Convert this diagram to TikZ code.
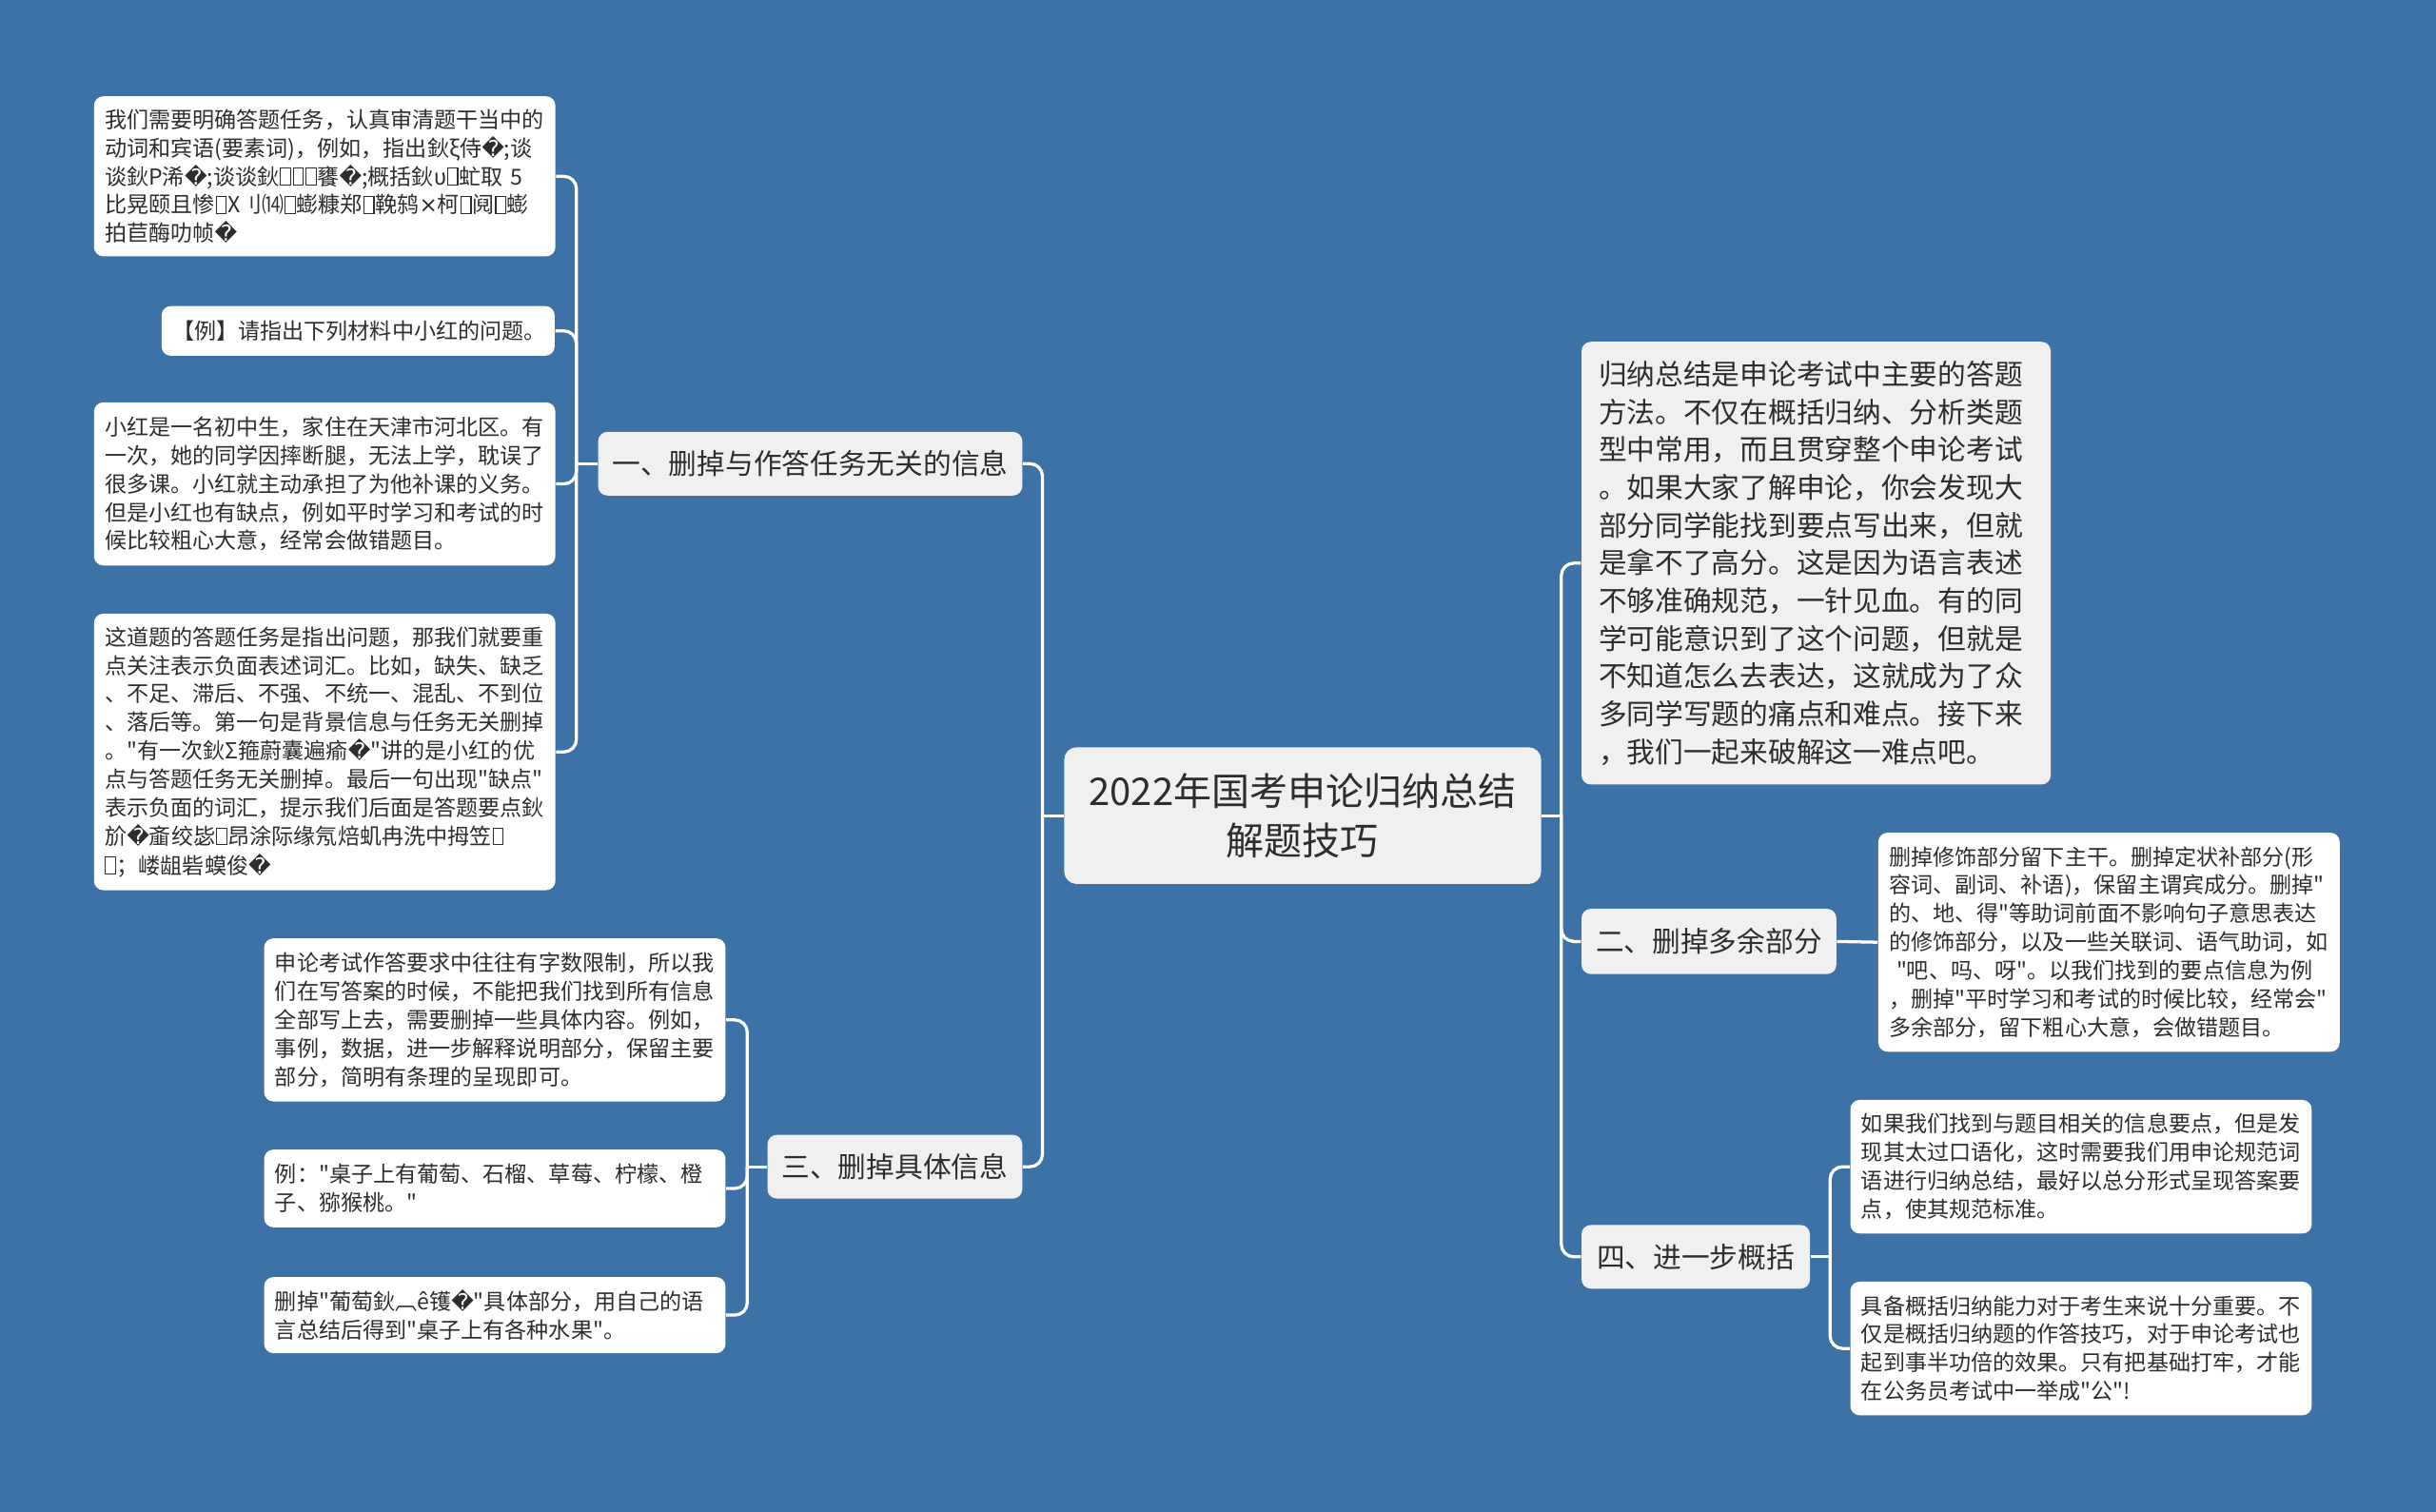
\documentclass[tikz,border=0pt]{standalone}
\usepackage{fontspec}
\setmainfont{Noto Sans CJK SC}[Ligatures=TeXOff]
\newfontfamily\symfont{DejaVu Sans}
\newcommand{\repch}{{\symfont\char"FFFD}}
\newcommand{\tofu}{\kern.04em{\setlength\fboxsep{0pt}\setlength\fboxrule{0.35pt}\framebox[0.5em]{\rule{0pt}{0.72em}}}\kern.04em}
\newcommand{\timesch}{{\symfont\char"00D7}}
\definecolor{mapbg}{RGB}{61,114,166}
\definecolor{topicgray}{RGB}{240,240,240}
\definecolor{inkgray}{RGB}{45,45,45}
\tikzset{
  root/.style={fill=topicgray, rounded corners=4pt, text=inkgray, align=center,
    font=\fontsize{12.25}{16}\selectfont, minimum width=153.5pt, minimum height=44pt},
  topic/.style={fill=topicgray, rounded corners=3pt, text=inkgray,
    font=\fontsize{9.1}{12.15}\selectfont, inner xsep=0pt, minimum height=20.5pt},
  note/.style={fill=topicgray, rounded corners=3pt, text=inkgray, align=left,
    font=\fontsize{9.1}{12.15}\selectfont, inner xsep=5.5pt, inner ysep=0pt, text width=140pt},
  leaf/.style={fill=white, rounded corners=3pt, text=inkgray, align=left,
    font=\fontsize{7.07}{9.15}\selectfont, inner xsep=3.5pt, inner ysep=0pt, text width=141.5pt},
  link/.style={draw=white, line width=1pt, rounded corners=4pt},
}
\begin{document}
\begin{tikzpicture}[x=0.5pt,y=-0.5pt]
  \fill[mapbg] (0,0) rectangle (1568,973);
  \useasboundingbox (0,0) rectangle (1568,973);

  \node[root] (root) at (838.5,525) {2022年国考申论归纳总结\\解题技巧};

  \node[topic, minimum width=136.5pt] (b1) at (521.5,298.5) {一、删掉与作答任务无关的信息};
  \node[topic, minimum width=82pt] (b3) at (576,751) {三、删掉具体信息};
  \node[topic, minimum width=82pt, minimum height=21pt] (b2) at (1100,606) {二、删掉多余部分};
  \node[topic, minimum width=73.5pt] (b4) at (1091.5,809) {四、进一步概括};

  \node[note, minimum height=142.5pt] (r0) at (1169,362.5) {归纳总结是申论考试中主要的答题\\
方法。不仅在概括归纳、分析类题\\
型中常用，而且贯穿整个申论考试\\
。如果大家了解申论，你会发现大\\
部分同学能找到要点写出来，但就\\
是拿不了高分。这是因为语言表述\\
不够准确规范，一针见血。有的同\\
学可能意识到了这个问题，但就是\\
不知道怎么去表达，这就成为了众\\
多同学写题的痛点和难点。接下来\\
，我们一起来破解这一难点吧。};

  \node[leaf, minimum height=70.5pt] (r2) at (1357.5,606.5) {删掉修饰部分留下主干。删掉定状补部分(形\\
容词、副词、补语)，保留主谓宾成分。删掉"\\
的、地、得"等助词前面不影响句子意思表达\\
的修饰部分，以及一些关联词、语气助词，如\\
~"吧、吗、呀"。以我们找到的要点信息为例\\
，删掉"平时学习和考试的时候比较，经常会"\\
多余部分，留下粗心大意，会做错题目。};

  \node[leaf, minimum height=43pt] (r4a) at (1339.5,751) {如果我们找到与题目相关的信息要点，但是发\\
现其太过口语化，这时需要我们用申论规范词\\
语进行归纳总结，最好以总分形式呈现答案要\\
点，使其规范标准。};
  \node[leaf, minimum height=43pt] (r4b) at (1339.5,868) {具备概括归纳能力对于考生来说十分重要。不\\
仅是概括归纳题的作答技巧，对于申论考试也\\
起到事半功倍的效果。只有把基础打牢，才能\\
在公务员考试中一举成"公"!};

  \node[leaf, minimum height=51.5pt] (l1a) at (209,113.5) {我们需要明确答题任务，认真审清题干当中的\\
动词和宾语(要素词)，例如，指出鈥ξ侍\repch{};谈\\
谈鈥P浠\repch{};谈谈鈥\tofu\tofu\tofu{}饔\repch{};概括鈥υ\tofu{}虻取~5\\
比晃颐且惨\tofu{}X刂⒁\tofu{}蟛糠郑\tofu{}鞔鸫\timesch{}柯\tofu{}阋\tofu{}蟛\\
拍苣酶叻帧\repch{}};
  \node[leaf, text width=119.5pt, minimum height=16pt] (l1b) at (230.5,213) {【例】请指出下列材料中小红的问题。};
  \node[leaf, minimum height=52.5pt] (l1c) at (209,311.5) {小红是一名初中生，家住在天津市河北区。有\\
一次，她的同学因摔断腿，无法上学，耽误了\\
很多课。小红就主动承担了为他补课的义务。\\
但是小红也有缺点，例如平时学习和考试的时\\
候比较粗心大意，经常会做错题目。};
  \node[leaf, minimum height=89pt] (l1d) at (209,484) {这道题的答题任务是指出问题，那我们就要重\\
点关注表示负面表述词汇。比如，缺失、缺乏\\
、不足、滞后、不强、不统一、混乱、不到位\\
、落后等。第一句是背景信息与任务无关删掉\\
。"有一次鈥Σ箍蔚囊遍瘉\repch{}"讲的是小红的优\\
点与答题任务无关删掉。最后一句出现"缺点"\\
表示负面的词汇，提示我们后面是答题要点鈥\\
斺\repch{}齑绞毖\tofu{}昂涂际缘氖焙虮冉洗中拇笠\tofu\\
\tofu{}；嵝龃砦蟆俊\repch{}};

  \node[leaf, minimum height=52.5pt] (l3a) at (318.5,656.5) {申论考试作答要求中往往有字数限制，所以我\\
们在写答案的时候，不能把我们找到所有信息\\
全部写上去，需要删掉一些具体内容。例如，\\
事例，数据，进一步解释说明部分，保留主要\\
部分，简明有条理的呈现即可。};
  \node[leaf, minimum height=25pt] (l3b) at (318.5,765) {例："桌子上有葡萄、石榴、草莓、柠檬、橙\\
子、猕猴桃。"};
  \node[leaf, minimum height=24.5pt] (l3c) at (318.5,846.5) {删掉"葡萄鈥︹ê镬\repch{}"具体部分，用自己的语\\
言总结后得到"桌子上有各种水果"。};

  \coordinate (jl) at (671,525);
  \coordinate (jr) at (1005,525);
  \coordinate (j1) at (371,298.5);
  \coordinate (j3) at (481,751);
  \coordinate (j4) at (1178,809);

  \draw[link] (root.west) -- (jl);
  \draw[link] (root.east) -- (jr);
  \foreach \t in {b1,b3} \draw[link] (jl) |- (\t.east);
  \foreach \t in {r0,b2,b4} \draw[link] (jr) |- (\t.west);

  \draw[link] (b1.west) -- (j1);
  \foreach \t in {l1a,l1b,l1c,l1d} \draw[link] (j1) |- (\t.east);

  \draw[link] (b3.west) -- (j3);
  \foreach \t in {l3a,l3b,l3c} \draw[link] (j3) |- (\t.east);

  \draw[link] (b2.east) -- (r2.west);

  \draw[link] (b4.east) -- (j4);
  \foreach \t in {r4a,r4b} \draw[link] (j4) |- (\t.west);
\end{tikzpicture}
\end{document}
